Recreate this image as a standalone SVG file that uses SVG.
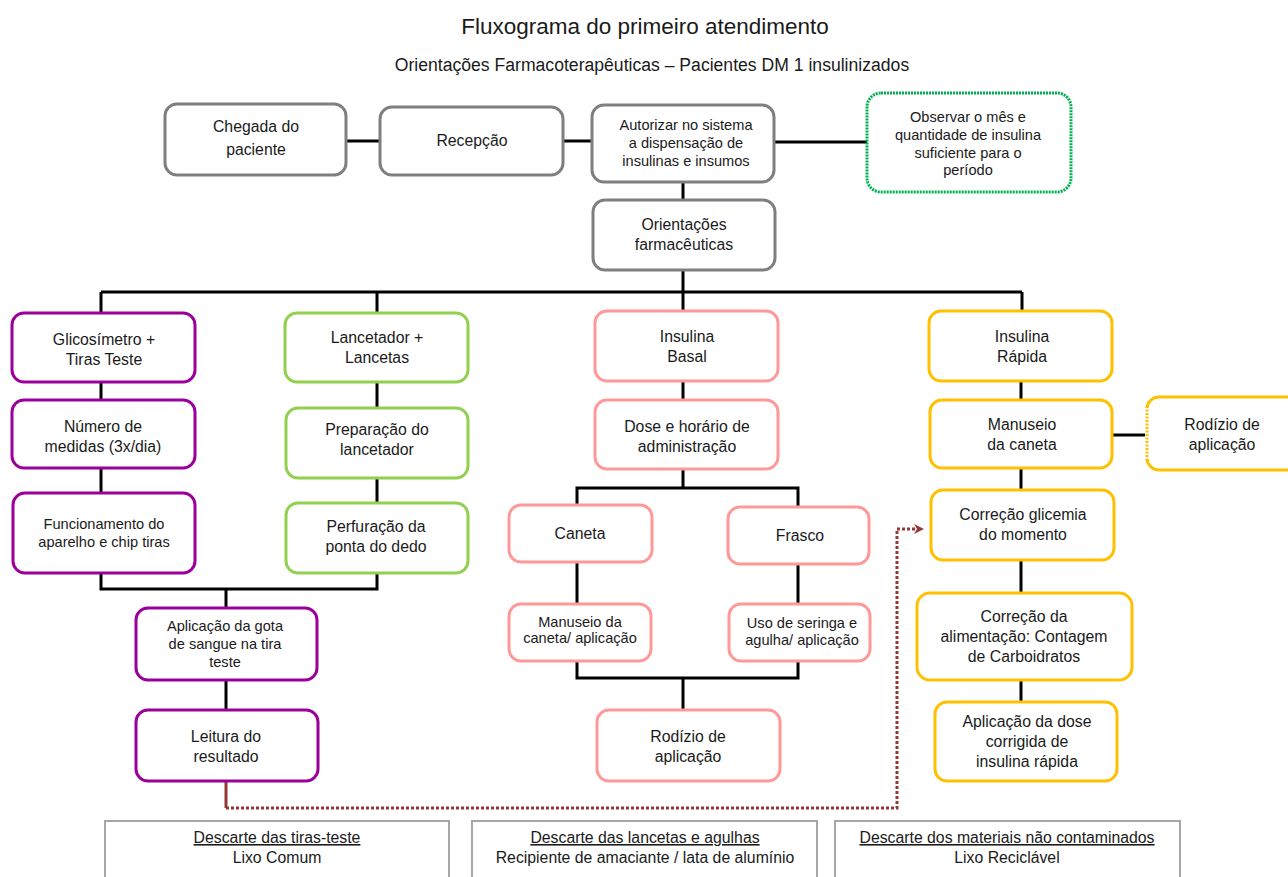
<svg xmlns="http://www.w3.org/2000/svg" width="1288" height="877" viewBox="0 0 1288 877">
<defs>
<style>
.b{fill:#fff;stroke-width:3}
.g{stroke:#7f7f7f}
.p{stroke:#9b009b}
.l{stroke:#92d050}
.k{stroke:#ff9999}
.o{stroke:#ffc000}
.t{font-family:"Liberation Sans",Arial,sans-serif;fill:#1a1a1a;text-anchor:middle;font-size:15.8px}
.s{font-size:14.6px}
.c{fill:none;stroke:#000;stroke-width:3}
.d{fill:#fff;stroke:#a6a6a6;stroke-width:2}
</style>
<marker id="arr" markerWidth="10" markerHeight="10" refX="6" refY="5" orient="auto" markerUnits="userSpaceOnUse">
<path d="M0,0 L10,5 L0,10 L3,5 Z" fill="#953735"/>
</marker>
</defs>
<rect width="1288" height="877" fill="#fff"/>
<text class="t" x="645" y="34" style="font-size:22.5px">Fluxograma do primeiro atendimento</text>
<text class="t" x="652" y="71" style="font-size:17.6px">Orientações Farmacoterapêuticas – Pacientes DM 1 insulinizados</text>

<g id="connectors">
<path class="c" d="M346 141H380M563 141H592M774 142H867M683 182V200M683 270V292M101 292H1022M101 292V313M377 292V313M683 292V311M1022 292V311"/>
<path class="c" d="M101 382V400M101 468V493M377 382V408M377 478V503M101 573V589H377V573M226 589V608M226 680V710"/>
<path class="c" d="M683 381V400M683 468V488M577 505V488H798V507M577 562V604M798 564V604M577 661V678H798V661M683 678V710"/>
<path class="c" d="M1021 381V400M1021 468V490M1021 560V593M1021 680V702M1112 435H1147"/>
<path d="M226 781V808" fill="none" stroke="#953735" stroke-width="3"/>
<path d="M226 808H897V529H920" fill="none" stroke="#953735" stroke-width="3" stroke-dasharray="3 2" marker-end="url(#arr)"/>
</g>

<g id="chegada"><rect class="b g" x="165" y="104" width="181" height="71" rx="12"/><text class="t" x="256" y="132">Chegada do</text><text class="t" x="256" y="155">paciente</text></g>
<g id="recepcao"><rect class="b g" x="380" y="107" width="183" height="68" rx="12"/><text class="t" x="472" y="146">Recepção</text></g>
<g id="autorizar"><rect class="b g" x="592" y="105" width="182" height="77" rx="12"/><text class="t s" x="686" y="130">Autorizar no sistema</text><text class="t s" x="686" y="148">a dispensação de</text><text class="t s" x="686" y="166">insulinas e insumos</text></g>
<g id="observar"><rect class="b" x="867" y="93" width="204" height="99" rx="14" stroke="#00b050" stroke-dasharray="2 1"/><text class="t s" x="968" y="122">Observar o mês e</text><text class="t s" x="968" y="140">quantidade de insulina</text><text class="t s" x="968" y="158">suficiente para o</text><text class="t s" x="968" y="175">período</text></g>
<g id="orientacoes"><rect class="b g" x="593" y="200" width="182" height="70" rx="12"/><text class="t" x="684" y="230">Orientações</text><text class="t" x="684" y="250">farmacêuticas</text></g>

<g id="glicosimetro"><rect class="b p" x="12" y="313" width="183" height="69" rx="12"/><text class="t" x="104" y="345">Glicosímetro +</text><text class="t" x="104" y="365">Tiras Teste</text></g>
<g id="numero"><rect class="b p" x="12" y="400" width="183" height="68" rx="12"/><text class="t" x="103" y="432">Número de</text><text class="t" x="103" y="452">medidas (3x/dia)</text></g>
<g id="funcionamento"><rect class="b p" x="13" y="493" width="182" height="80" rx="12"/><text class="t s" x="104" y="529">Funcionamento do</text><text class="t s" x="104" y="547">aparelho e chip tiras</text></g>
<g id="aplicacao-gota"><rect class="b p" x="136" y="608" width="181" height="72" rx="12"/><text class="t s" x="225" y="631">Aplicação da gota</text><text class="t s" x="225" y="649">de sangue na tira</text><text class="t s" x="225" y="667">teste</text></g>
<g id="leitura"><rect class="b p" x="136" y="710" width="182" height="71" rx="12"/><text class="t" x="226" y="742">Leitura do</text><text class="t" x="226" y="762">resultado</text></g>

<g id="lancetador"><rect class="b l" x="285" y="313" width="183" height="69" rx="12"/><text class="t" x="377" y="343">Lancetador +</text><text class="t" x="377" y="363">Lancetas</text></g>
<g id="preparacao"><rect class="b l" x="286" y="408" width="182" height="70" rx="12"/><text class="t" x="377" y="435">Preparação do</text><text class="t" x="377" y="455">lancetador</text></g>
<g id="perfuracao"><rect class="b l" x="286" y="503" width="182" height="70" rx="12"/><text class="t" x="376" y="532">Perfuração da</text><text class="t" x="376" y="552">ponta do dedo</text></g>

<g id="basal"><rect class="b k" x="595" y="311" width="183" height="70" rx="12"/><text class="t" x="687" y="342">Insulina</text><text class="t" x="687" y="362">Basal</text></g>
<g id="dose"><rect class="b k" x="595" y="400" width="183" height="69" rx="12"/><text class="t" x="687" y="432">Dose e horário de</text><text class="t" x="687" y="452">administração</text></g>
<g id="caneta"><rect class="b k" x="509" y="505" width="143" height="57" rx="12"/><text class="t" x="580" y="539">Caneta</text></g>
<g id="frasco"><rect class="b k" x="728" y="507" width="141" height="57" rx="12"/><text class="t" x="800" y="541">Frasco</text></g>
<g id="manuseio-caneta-aplicacao"><rect class="b k" x="509" y="604" width="142" height="57" rx="12"/><text class="t s" x="580" y="627">Manuseio da</text><text class="t s" x="580" y="643">caneta/ aplicação</text></g>
<g id="seringa"><rect class="b k" x="729" y="604" width="141" height="57" rx="12"/><text class="t s" x="802" y="628">Uso de seringa e</text><text class="t s" x="802" y="645">agulha/ aplicação</text></g>
<g id="rodizio-basal"><rect class="b k" x="597" y="710" width="183" height="71" rx="12"/><text class="t" x="688" y="742">Rodízio de</text><text class="t" x="688" y="762">aplicação</text></g>

<g id="rapida"><rect class="b o" x="929" y="311" width="183" height="70" rx="12"/><text class="t" x="1022" y="342">Insulina</text><text class="t" x="1022" y="362">Rápida</text></g>
<g id="manuseio-rapida"><rect class="b o" x="930" y="400" width="182" height="68" rx="12"/><text class="t" x="1022" y="430">Manuseio</text><text class="t" x="1022" y="450">da caneta</text></g>
<g id="rodizio-rapida"><rect class="b o" x="1147" y="397" width="160" height="73" rx="12"/><path d="M1147 408V459" stroke="#fff" stroke-width="4"/><path d="M1147 406V461" stroke="#ffc000" stroke-width="3" stroke-dasharray="2 1.5"/><text class="t" x="1222" y="430">Rodízio de</text><text class="t" x="1222" y="450">aplicação</text></g>
<g id="correcao-glicemia"><rect class="b o" x="931" y="490" width="183" height="70" rx="12"/><text class="t" x="1023" y="520">Correção glicemia</text><text class="t" x="1023" y="540">do momento</text></g>
<g id="correcao-alimentacao"><rect class="b o" x="917" y="593" width="215" height="87" rx="13"/><text class="t" x="1024" y="622">Correção da</text><text class="t" x="1024" y="642">alimentação: Contagem</text><text class="t" x="1024" y="662">de Carboidratos</text></g>
<g id="aplicacao-dose"><rect class="b o" x="935" y="702" width="182" height="79" rx="12"/><text class="t" x="1027" y="727">Aplicação da dose</text><text class="t" x="1027" y="747">corrigida de</text><text class="t" x="1027" y="767">insulina rápida</text></g>

<g id="descarte-tiras"><rect class="d" x="105" y="821" width="344" height="70"/><text class="t" x="277" y="843" text-decoration="underline">Descarte das tiras-teste</text><text class="t" x="277" y="863">Lixo Comum</text></g>
<g id="descarte-lancetas"><rect class="d" x="472" y="821" width="345" height="70"/><text class="t" x="645" y="843" text-decoration="underline">Descarte das lancetas e agulhas</text><text class="t" x="645" y="863">Recipiente de amaciante / lata de alumínio</text></g>
<g id="descarte-materiais"><rect class="d" x="835" y="821" width="345" height="70"/><text class="t" x="1007" y="843" text-decoration="underline">Descarte dos materiais não contaminados</text><text class="t" x="1007" y="863">Lixo Reciclável</text></g>
</svg>
